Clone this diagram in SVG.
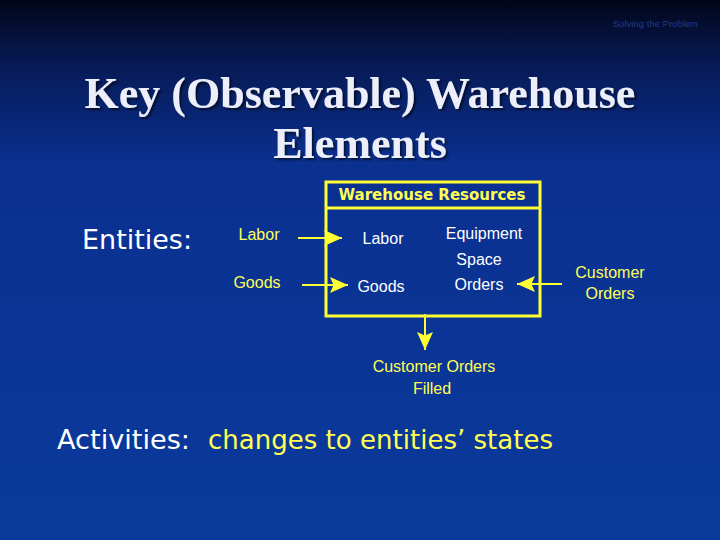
<svg xmlns="http://www.w3.org/2000/svg" width="720" height="540" viewBox="0 0 720 540">
<defs>
<linearGradient id="bg" x1="0" y1="0" x2="0" y2="1">
<stop offset="0" stop-color="#02061a"/>
<stop offset="0.12" stop-color="#071a55"/>
<stop offset="0.3" stop-color="#0a3090"/>
<stop offset="1" stop-color="#0a3a9c"/>
</linearGradient>
<filter id="sh" x="-5%" y="-5%" width="110%" height="120%">
<feDropShadow dx="2" dy="2" stdDeviation="0.8" flood-color="#000" flood-opacity="0.6"/>
</filter>
<marker id="ah" viewBox="0 0 10 10" refX="10" refY="5" markerWidth="18" markerHeight="16" markerUnits="userSpaceOnUse" orient="auto" preserveAspectRatio="none">
<path d="M0,0 L10,5 L0,10 L2,5 Z" fill="#ffff33"/>
</marker>
</defs>
<style>
.y{fill:#ffff55;font-family:"Liberation Sans",Arial,sans-serif;font-size:16px}
.w{fill:#ffffff;font-family:"Liberation Sans",Arial,sans-serif;font-size:16px}
.big{font-family:"DejaVu Sans",sans-serif;font-size:27px}
.ln{stroke:#ffff33;stroke-width:2;fill:none}
</style>
<rect width="720" height="540" fill="url(#bg)"/>
<text x="698" y="27" text-anchor="end" fill="#1e3a90" font-family="Liberation Sans,Arial,sans-serif" font-size="9.5">Solving the Problem</text>
<g filter="url(#sh)" fill="#eceefa" font-family="Liberation Serif,'Times New Roman',serif" font-weight="bold" font-size="44" text-anchor="middle">
<text x="360" y="108">Key (Observable) Warehouse</text>
<text x="360" y="158">Elements</text>
</g>
<text class="big" x="82" y="249" fill="#ffffff" textLength="110" lengthAdjust="spacingAndGlyphs">Entities:</text>
<text class="big" x="57" y="449" fill="#ffffff" textLength="133" lengthAdjust="spacingAndGlyphs">Activities:</text>
<text class="big" x="208" y="449" fill="#ffff55" textLength="345" lengthAdjust="spacingAndGlyphs">changes to entities’ states</text>

<g id="resources">
<rect x="326" y="182" width="214" height="134" fill="none" stroke="#ffff33" stroke-width="3"/>
<line x1="326" y1="208" x2="540" y2="208" stroke="#ffff33" stroke-width="3"/>
<text x="432" y="200" text-anchor="middle" fill="#ffff55" font-family="'DejaVu Sans',sans-serif" font-weight="bold" font-size="15" textLength="187" lengthAdjust="spacingAndGlyphs">Warehouse Resources</text>
<text class="w" x="383" y="244" text-anchor="middle">Labor</text>
<text class="w" x="381" y="292" text-anchor="middle">Goods</text>
<text class="w" x="484" y="239" text-anchor="middle">Equipment</text>
<text class="w" x="479" y="265" text-anchor="middle">Space</text>
<text class="w" x="479" y="290" text-anchor="middle">Orders</text>
</g>
<g id="labor-in"><text class="y" x="259" y="240" text-anchor="middle">Labor</text></g>
<g id="goods-in"><text class="y" x="257" y="288" text-anchor="middle">Goods</text></g>
<g id="customer-orders"><text class="y" x="610" y="278" text-anchor="middle">Customer</text><text class="y" x="610" y="299" text-anchor="middle">Orders</text></g>
<g id="orders-filled"><text class="y" x="434" y="372" text-anchor="middle">Customer Orders</text><text class="y" x="432" y="394" text-anchor="middle">Filled</text></g>
<g id="connectors">
<line class="ln" x1="298" y1="238" x2="342" y2="238" marker-end="url(#ah)"/>
<line class="ln" x1="302" y1="285" x2="348" y2="285" marker-end="url(#ah)"/>
<line class="ln" x1="562" y1="284" x2="517" y2="284" marker-end="url(#ah)"/>
<line class="ln" x1="425" y1="314" x2="425" y2="350" marker-end="url(#ah)"/>
</g>
</svg>
